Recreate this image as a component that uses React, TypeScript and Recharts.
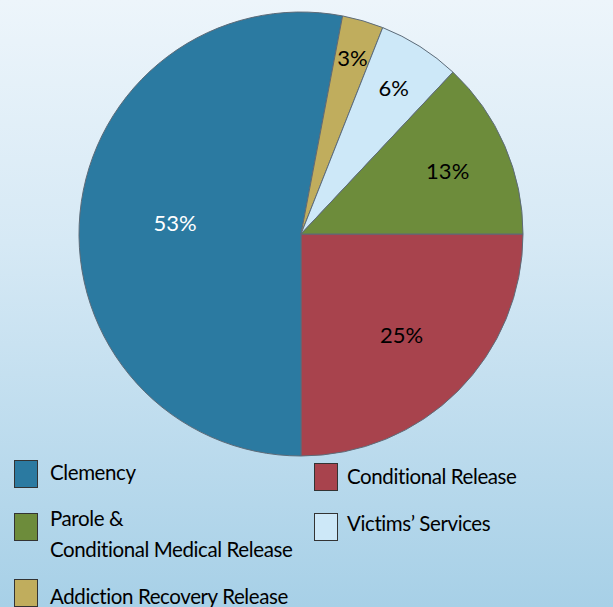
import { PieChart, Pie, Cell } from "recharts";

// slices in drawing order, clockwise from 3 o'clock
const sliceNames = [
	"Conditional Release",
	"Clemency",
	"Addiction Recovery Release",
	"Victims’ Services",
	"Parole & Conditional Medical Release",
];
const sliceValues = [25, 53, 3, 6, 13];
const sliceColors = ["#a8434d", "#2b7aa1", "#c0ad5d", "#cde8f8", "#6d8c3b"];
const labelColors = ["#000", "#fff", "#000", "#000", "#000"];

// how far out each percent label sits (fraction of radius)
const labelRadius = [0.64, 0.57, 0.83, 0.78, 0.72];

const chartData = sliceNames.map((name, i) => ({
	name,
	value: sliceValues[i],
	color: sliceColors[i],
}));

const FONT = "Lato, 'Open Sans', sans-serif";
const RADIAN = Math.PI / 180;

const renderLabel = (props: any) => {
	const { cx, cy, midAngle, outerRadius, index, value } = props;
	const r = outerRadius * labelRadius[index];
	const x = cx + r * Math.cos(-midAngle * RADIAN);
	const y = cy + r * Math.sin(-midAngle * RADIAN);
	return (
		<text
			x={x}
			y={y}
			fill={labelColors[index]}
			textAnchor="middle"
			dominantBaseline="central"
			fontSize={22}
			fontFamily={FONT}
		>
			{`${value}%`}
		</text>
	);
};

// legend layout: which slice, box position, text position
const legendItems = [
	{ idx: 1, left: 14, top: 460, textLeft: 50, textTop: 457, lines: ["Clemency"] },
	{ idx: 0, left: 314, top: 463, textLeft: 347, textTop: 461, lines: ["Conditional Release"] },
	{ idx: 4, left: 14, top: 513, textLeft: 50, textTop: 503, lines: ["Parole &", "Conditional Medical Release"] },
	{ idx: 3, left: 314, top: 513, textLeft: 347, textTop: 508, lines: ["Victims’ Services"] },
	{ idx: 2, left: 14, top: 579, textLeft: 50, textTop: 581, lines: ["Addiction Recovery Release"] },
];

const App = () => {
	return (
		<div
			style={{
				position: "absolute",
				left: 0,
				top: 0,
				width: 613,
				height: 607,
				overflow: "hidden",
				background: "linear-gradient(to bottom, #edf5fb 0%, #d6e9f5 40%, #a7d0e7 100%)",
				fontFamily: FONT,
			}}
		>
			<PieChart
				width={613}
				height={607}
				margin={{ top: 0, right: 0, bottom: 0, left: 0 }}
				style={{ position: "absolute", left: 0, top: 0 }}
			>
				<Pie
					data={chartData}
					dataKey="value"
					nameKey="name"
					cx={301}
					cy={234}
					outerRadius={222}
					startAngle={0}
					endAngle={-360}
					stroke="#5d6b78"
					strokeWidth={1}
					label={renderLabel}
					labelLine={false}
					isAnimationActive={false}
				>
					{chartData.map((entry, index) => (
						<Cell key={`cell-${index}`} fill={entry.color} />
					))}
				</Pie>
			</PieChart>
			{legendItems.map((item) => (
				<div key={item.idx}>
					<div
						style={{
							position: "absolute",
							left: item.left,
							top: item.top,
							width: 24,
							height: 28,
							background: sliceColors[item.idx],
							border: "1px solid #333",
							boxSizing: "border-box",
						}}
					/>
					<div
						style={{
							position: "absolute",
							left: item.textLeft,
							top: item.textTop,
							fontSize: 20.5,
							letterSpacing: -0.4,
							lineHeight: "31px",
							color: "#000",
							whiteSpace: "nowrap",
						}}
					>
						{item.lines.map((l) => (
							<div key={l}>{l}</div>
						))}
					</div>
				</div>
			))}
		</div>
	);
};

export default App;
